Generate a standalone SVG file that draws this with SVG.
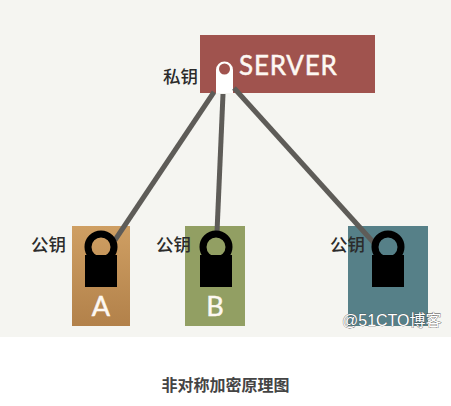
<svg xmlns="http://www.w3.org/2000/svg" width="451" height="406" viewBox="0 0 451 406">
<defs>
<linearGradient id="ga" x1="0" y1="0" x2="0" y2="1"><stop offset="0" stop-color="#cf9f63"/><stop offset="1" stop-color="#b2814a"/></linearGradient>
</defs>
<style>
.cjk{font-family:"Noto Sans CJK SC","Liberation Sans",sans-serif}
.lab{font-size:17.500px;font-weight:500;fill:#2b2b2b}
.let{font-family:"Lato","Liberation Sans",sans-serif;fill:#fdf8f2;stroke:#fdf8f2;stroke-width:0.5}
.con{stroke:#5e5c58;stroke-width:5;fill:none}
.blk{fill:#000}
.ring{fill:none;stroke:#000;stroke-width:7}
</style>
<rect width="451" height="406" fill="#fff"/>
<rect width="451" height="337" fill="#f5f5f1"/>
<g id="server">
<rect x="200" y="35" width="175" height="58" fill="#a0534e"/>
<text x="239" y="75" class="let" font-size="26" letter-spacing="0.8">SERVER</text>
<path d="M216 93V70a8.500 8.500 0 0 1 17 0V93Z" fill="#fff"/>
<circle cx="224.500" cy="69" r="5.500" fill="#a0534e"/>
<text x="163" y="83" class="cjk lab">私钥</text>
</g>
<g id="node-a">
<rect x="72" y="226" width="58" height="100" fill="url(#ga)"/>
<text x="101" y="316" class="let" font-size="27" text-anchor="middle">A</text>
</g>
<g id="node-b">
<rect x="185" y="226" width="60" height="100" fill="#929f63"/>
<text x="215" y="316" class="let" font-size="27" text-anchor="middle">B</text>
</g>
<g id="node-c">
<rect x="348" y="226" width="80" height="100" fill="#568088"/>
</g>
<g id="connectors">
<line class="con" x1="214" y1="92" x2="115" y2="240"/>
<line class="con" x1="223" y1="94" x2="217" y2="232"/>
<line class="con" x1="234" y1="88" x2="374" y2="243"/>
</g>
<g id="lock-a">
<circle class="ring" cx="101" cy="247" r="13"/>
<rect class="blk" x="85" y="255" width="32" height="32"/>
<text x="31" y="251" class="cjk lab">公钥</text>
</g>
<g id="lock-b">
<circle class="ring" cx="216" cy="247" r="13"/>
<rect class="blk" x="200" y="255" width="32" height="32"/>
<text x="156" y="251" class="cjk lab">公钥</text>
</g>
<g id="lock-c">
<circle class="ring" cx="388" cy="247" r="13"/>
<rect class="blk" x="372" y="255" width="32" height="32"/>
<text x="330" y="251" class="cjk lab">公钥</text>
</g>
<text x="342" y="326" font-size="16" font-family="Liberation Sans,Noto Sans CJK SC,sans-serif" fill="#fff" stroke="#444" stroke-width="0.6" paint-order="stroke">@51CTO博客</text>
<text x="225.500" y="391" text-anchor="middle" class="cjk" font-size="16" font-weight="700" fill="#444">非对称加密原理图</text>
</svg>
